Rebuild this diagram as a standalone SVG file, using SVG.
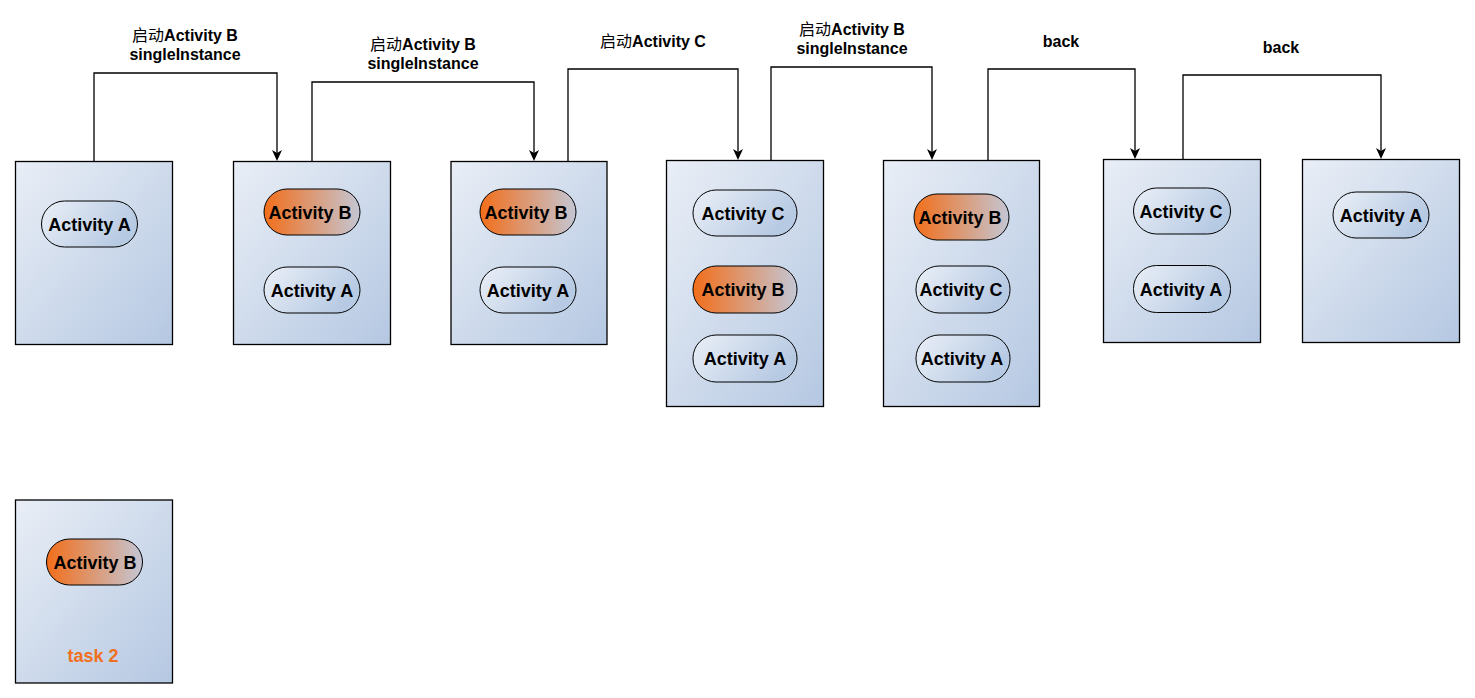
<svg xmlns="http://www.w3.org/2000/svg" width="1475" height="698" viewBox="0 0 1475 698">
<defs>
<linearGradient id="gBox" x1="0" y1="0" x2="1" y2="1">
<stop offset="0" stop-color="#e9eef6"/>
<stop offset="1" stop-color="#b5c8e2"/>
</linearGradient>
<linearGradient id="gPill" x1="0" y1="0" x2="1" y2="0.4">
<stop offset="0" stop-color="#eaeff7"/>
<stop offset="1" stop-color="#b7cae3"/>
</linearGradient>
<linearGradient id="gOrange" x1="0" y1="0" x2="1" y2="0">
<stop offset="0" stop-color="#f26e1a"/>
<stop offset="1" stop-color="#c4c6d4"/>
</linearGradient>
</defs>
<style>
.box{fill:url(#gBox);stroke:#000;stroke-width:1.3}
.pill{fill:url(#gPill);stroke:#000;stroke-width:1}
.pillo{fill:url(#gOrange);stroke:#000;stroke-width:1}
.pt{font-family:"Liberation Sans",Arial,sans-serif;font-weight:bold;font-size:18px;fill:#000;text-anchor:middle}
.lbl{font-family:"Liberation Sans",Arial,"Noto Sans CJK SC",sans-serif;font-weight:bold;font-size:16px;fill:#000;text-anchor:middle}
.cn{font-weight:normal;font-family:"Noto Sans CJK SC",sans-serif}
.conn{fill:none;stroke:#000;stroke-width:1.3}
.ah{fill:#000}
.task{font-family:"Liberation Sans",Arial,sans-serif;font-weight:bold;font-size:18px;fill:#f07022;text-anchor:middle}
</style>
<rect width="1475" height="698" fill="#fff"/>

<g id="connectors">
<path class="conn" d="M94,161 V73 H277 V154"/>
<path class="ah" d="M272,150 L277,161 L282,150 L277,153 Z"/>
<path class="conn" d="M312,161 V82 H534 V154"/>
<path class="ah" d="M529,150 L534,161 L539,150 L534,153 Z"/>
<path class="conn" d="M568,161 V69 H738 V153"/>
<path class="ah" d="M733,149 L738,160 L743,149 L738,152 Z"/>
<path class="conn" d="M771,160 V67 H932 V153"/>
<path class="ah" d="M927,149 L932,160 L937,149 L932,152 Z"/>
<path class="conn" d="M988,160 V69 H1135 V152"/>
<path class="ah" d="M1130,148 L1135,159 L1140,148 L1135,151 Z"/>
<path class="conn" d="M1183,159 V75 H1381 V152"/>
<path class="ah" d="M1376,148 L1381,159 L1386,148 L1381,151 Z"/>
<text class="lbl" x="185" y="41"><tspan class="cn">启动</tspan>Activity B</text>
<text class="lbl" x="185" y="60">singleInstance</text>
<text class="lbl" x="423" y="50"><tspan class="cn">启动</tspan>Activity B</text>
<text class="lbl" x="423" y="69">singleInstance</text>
<text class="lbl" x="653" y="47"><tspan class="cn">启动</tspan>Activity C</text>
<text class="lbl" x="852" y="35"><tspan class="cn">启动</tspan>Activity B</text>
<text class="lbl" x="852" y="54">singleInstance</text>
<text class="lbl" x="1061" y="47">back</text>
<text class="lbl" x="1281" y="53">back</text>
</g>

<g id="stack1">
<rect class="box" x="15.5" y="161.5" width="157" height="183"/>
<rect class="pill" x="41.5" y="201" width="96" height="46" rx="23"/>
<text class="pt" x="89.5" y="230.5">Activity A</text>
</g>

<g id="stack2">
<rect class="box" x="233.5" y="161.5" width="157" height="183"/>
<rect class="pillo" x="264" y="189" width="96" height="46" rx="23"/>
<text class="pt" x="310" y="218.5">Activity B</text>
<rect class="pill" x="264" y="267" width="96" height="46" rx="23"/>
<text class="pt" x="312" y="296.5">Activity A</text>
</g>

<g id="stack3">
<rect class="box" x="451" y="161.5" width="156" height="183"/>
<rect class="pillo" x="480" y="189" width="96" height="46" rx="23"/>
<text class="pt" x="526" y="218.5">Activity B</text>
<rect class="pill" x="480" y="267" width="96" height="46" rx="23"/>
<text class="pt" x="528" y="296.5">Activity A</text>
</g>

<g id="stack4">
<rect class="box" x="666.5" y="160.5" width="157" height="246"/>
<rect class="pill" x="693" y="190" width="104" height="46" rx="23"/>
<text class="pt" x="743" y="219.5">Activity C</text>
<rect class="pillo" x="693" y="266" width="104" height="47" rx="23"/>
<text class="pt" x="743" y="296">Activity B</text>
<rect class="pill" x="693" y="335" width="104" height="47" rx="23"/>
<text class="pt" x="745" y="365">Activity A</text>
</g>

<g id="stack5">
<rect class="box" x="883.5" y="160.5" width="156" height="246"/>
<rect class="pillo" x="914" y="194" width="95" height="46" rx="23"/>
<text class="pt" x="960" y="223.5">Activity B</text>
<rect class="pill" x="916" y="266" width="94" height="47" rx="23"/>
<text class="pt" x="961" y="296">Activity C</text>
<rect class="pill" x="916" y="335" width="94" height="47" rx="23"/>
<text class="pt" x="962" y="365">Activity A</text>
</g>

<g id="stack6">
<rect class="box" x="1103.5" y="159.5" width="157" height="183"/>
<rect class="pill" x="1133.5" y="188" width="97" height="46" rx="23"/>
<text class="pt" x="1181" y="217.5">Activity C</text>
<rect class="pill" x="1133.5" y="265.5" width="97" height="47" rx="23"/>
<text class="pt" x="1181" y="295.5">Activity A</text>
</g>

<g id="stack7">
<rect class="box" x="1302.5" y="159.5" width="157" height="183"/>
<rect class="pill" x="1333" y="192" width="96" height="46" rx="23"/>
<text class="pt" x="1381" y="221.5">Activity A</text>
</g>

<g id="task2">
<rect class="box" x="15.5" y="500" width="157" height="183"/>
<rect class="pillo" x="46.5" y="539" width="96" height="46" rx="23"/>
<text class="pt" x="95" y="568.5">Activity B</text>
<text class="task" x="93" y="662">task 2</text>
</g>
</svg>
